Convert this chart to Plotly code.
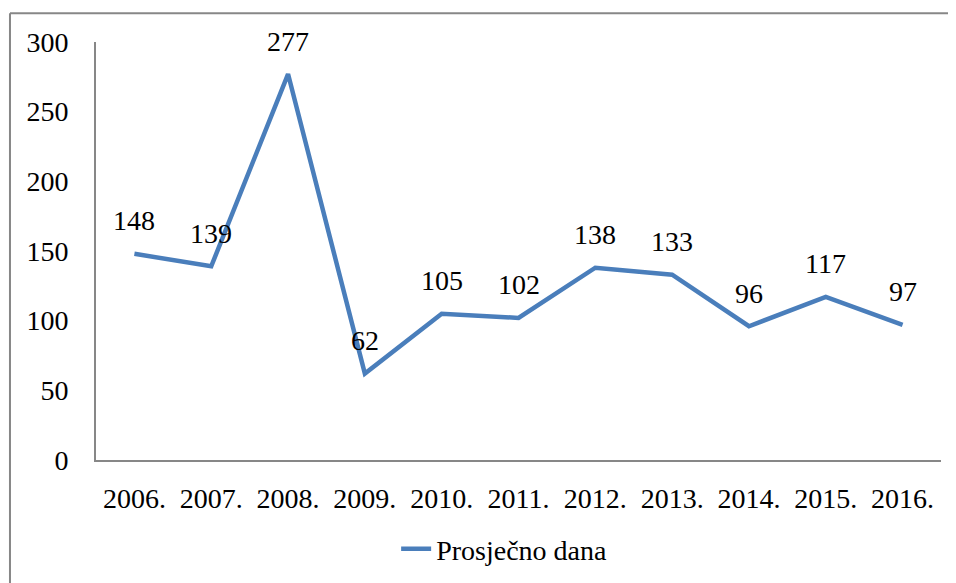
import plotly.graph_objects as go

years = ["2006.", "2007.", "2008.", "2009.", "2010.", "2011.", "2012.", "2013.", "2014.", "2015.", "2016."]
values = [148, 139, 277, 62, 105, 102, 138, 133, 96, 117, 97]
series_name = "Prosječno dana"
y_ticks = [0, 50, 100, 150, 200, 250, 300]

FONT = "Liberation Serif"
SIZE = 28
fig = go.Figure()
fig.add_trace(go.Scatter(
    x=years, y=values, mode="lines", name=series_name,
    line=dict(color="#4A7EBB", width=4.5),
    cliponaxis=False,
))
for i, v in enumerate(values):
    fig.add_annotation(x=i, y=v, text=str(v), showarrow=False, yshift=33,
                       font=dict(family=FONT, size=SIZE, color="#000000"))

border = dict(color="#878787", width=2)
fig.update_layout(
    width=956, height=583,
    margin=dict(l=88, r=23, t=34, b=131),
    paper_bgcolor="white", plot_bgcolor="white",
    font=dict(family=FONT, size=SIZE, color="#000000"),
    showlegend=True,
    legend=dict(orientation="h", x=0.483, y=-0.213, xanchor="center", yanchor="middle",
                font=dict(family=FONT, size=SIZE), bgcolor="rgba(0,0,0,0)"),
    xaxis=dict(type="category", categoryorder="array", categoryarray=years,
               range=[-0.5, len(years) - 0.5], showgrid=False, showline=True,
               linecolor="#878787", linewidth=2, ticks="", ticklabelstandoff=12, zeroline=False),
    yaxis=dict(range=[0, 300], tickvals=y_ticks, showgrid=False, showline=True, linecolor="#878787",
               linewidth=2, ticks="", ticklabelstandoff=20, zeroline=False),
    shapes=[
        dict(type="line", xref="paper", yref="paper", x0=-0.1018, y0=-0.5, x1=-0.1018, y1=1.069, line=border),
        dict(type="line", xref="paper", yref="paper", x0=-0.1018, y0=1.069, x1=1.2, y1=1.069, line=border),
    ],
)

fig.write_html("out.html")
